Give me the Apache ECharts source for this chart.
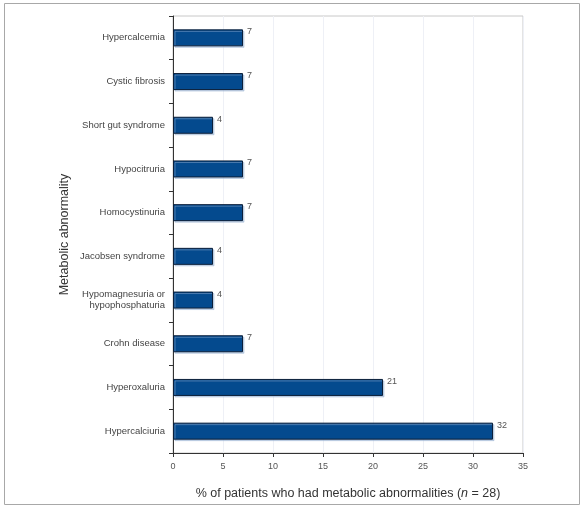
<!DOCTYPE html>
<html><head><meta charset="utf-8">
<script src="https://cdn.jsdelivr.net/npm/echarts@6/dist/echarts.min.js"></script>
<style>html,body{margin:0;padding:0;background:#fff}#c{width:584px;height:509px}</style>
</head><body><div id="c"></div>
<script>
var categories = ["Hypercalcemia","Cystic fibrosis","Short gut syndrome","Hypocitruria","Homocystinuria","Jacobsen syndrome","Hypomagnesuria or\nhypophosphaturia","Crohn disease","Hyperoxaluria","Hypercalciuria"];
var values = [7,7,4,7,7,4,4,7,21,32];
var xTicks = [0,5,10,15,20,25,30,35];

var chart = echarts.init(document.getElementById('c'), null, {renderer:'canvas'});
chart.setOption({
  animation:false,
  graphic:[{type:'rect',shape:{x:4.5,y:3.5,width:575,height:501},style:{fill:'none',stroke:'#a8a8a8',lineWidth:1}}],
  grid:{left:173,right:61,top:16,bottom:56,show:true,borderColor:'#c8c8c8',borderWidth:1},
  xAxis:{type:'value',min:xTicks[0],max:xTicks[xTicks.length-1],interval:5,
    name:'{t|% of patients who had metabolic abnormalities (}{i|n}{t| = 28)}',
    nameLocation:'middle',nameGap:34,
    nameTextStyle:{fontFamily:'Liberation Sans',fontSize:12.5,color:'#333',
      rich:{t:{fontFamily:'Liberation Sans',fontSize:12.5,color:'#333'},
            i:{fontFamily:'Liberation Sans',fontStyle:'italic',fontSize:12.5,color:'#333'}}},
    axisLine:{show:true,lineStyle:{color:'#333',width:1}},
    axisTick:{show:true,length:4,lineStyle:{color:'#333'}},
    axisLabel:{fontFamily:'Liberation Sans',fontSize:9,color:'#555',margin:9},
    splitLine:{show:true,lineStyle:{color:'#eef0f6',width:1}}
  },
  yAxis:{type:'category',data:categories,inverse:true,
    name:'Metabolic abnormality',nameLocation:'middle',nameGap:102,nameRotate:90,nameMoveOverlap:false,
    nameTextStyle:{fontFamily:'Liberation Sans',fontSize:12.5,color:'#333'},
    axisLine:{show:true,lineStyle:{color:'#333',width:1}},
    axisTick:{show:true,length:4,lineStyle:{color:'#333'}},
    axisLabel:{fontFamily:'Liberation Sans',fontSize:9.5,color:'#444',margin:8,lineHeight:11}
  },
  series:[{type:'bar',data:values,barWidth:17,
    itemStyle:{color:'#044a8e',borderColor:'#0b1f3a',borderWidth:1,
      shadowColor:'rgba(150,175,210,0.5)',shadowOffsetX:1.5,shadowOffsetY:1.5,shadowBlur:0},
    label:{show:true,position:'right',distance:4,offset:[0,-6],fontFamily:'Liberation Sans',fontSize:9,color:'#555'}
  }]
});
</script></body></html>
